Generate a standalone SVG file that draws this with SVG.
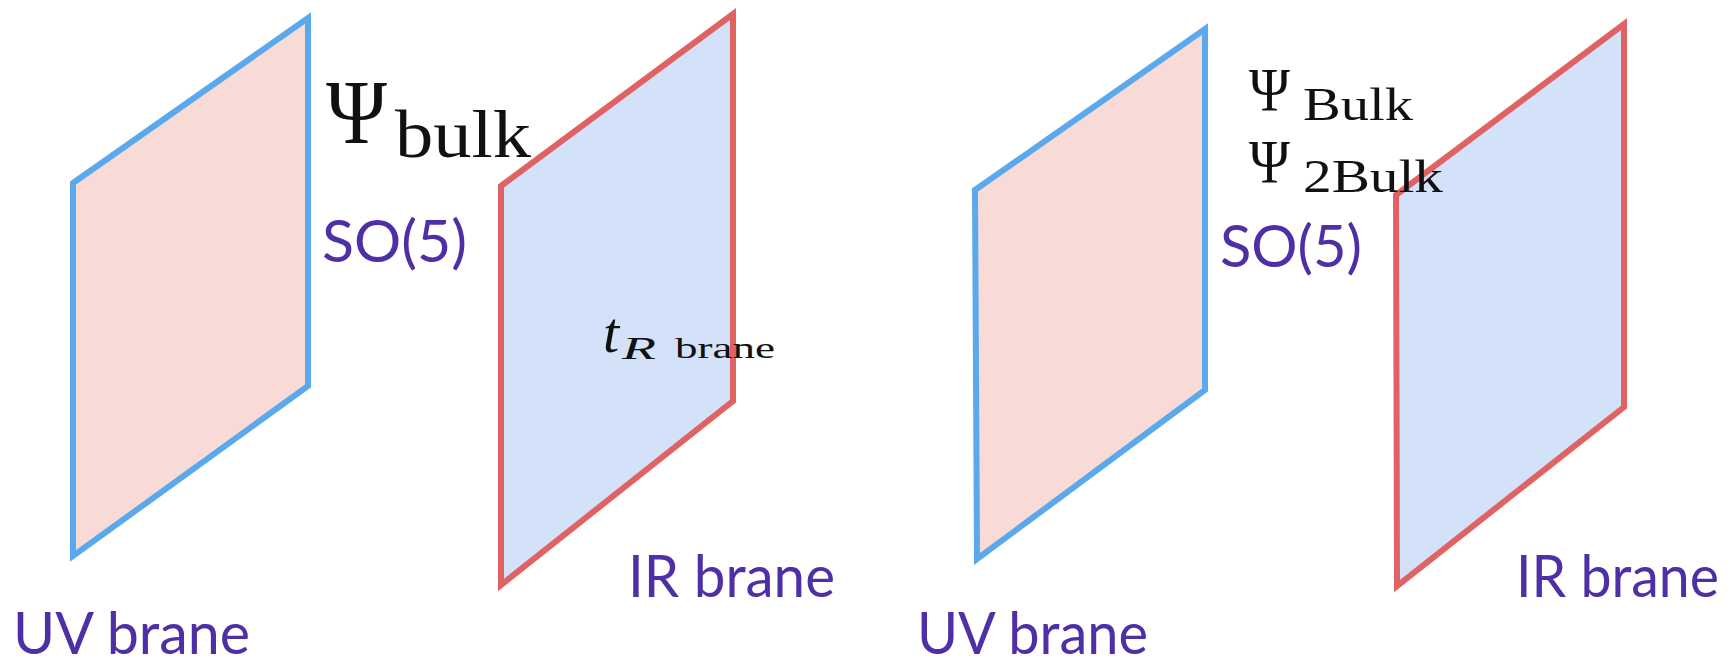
<svg xmlns="http://www.w3.org/2000/svg" width="1734" height="665" viewBox="0 0 1734 665">
  <style>
    .uv { fill: #f8dad6; stroke: #5aa9ec; stroke-width: 6; stroke-linejoin: miter; }
    .ir { fill: #d3e2f9; stroke: #e06262; stroke-width: 6; stroke-linejoin: miter; }
    .lbl { font-family: Lato, "Open Sans", "Liberation Sans", sans-serif; fill: #4f2fa6; font-size: 58px; }
    .math { font-family: "Liberation Serif", "DejaVu Serif", serif; fill: #111; }
    .it { font-style: italic; }
  </style>
  <rect width="1734" height="665" fill="#ffffff"/>

  <g id="uv-brane-1">
    <polygon class="uv" points="73,183 308,18 308,386 73,556"/>
    <text class="lbl" x="13" y="654" textLength="237" lengthAdjust="spacingAndGlyphs">UV brane</text>
  </g>
  <g id="so5-1">
    <text class="lbl" x="322" y="262" textLength="145" lengthAdjust="spacingAndGlyphs">SO(5)</text>
  </g>
  <g id="ir-brane-1">
    <polygon class="ir" points="501,186 733,14 733,401 501,585"/>
    <text class="lbl" x="628" y="597" textLength="207" lengthAdjust="spacingAndGlyphs">IR brane</text>
  </g>
  <g id="psi-bulk-1">
    <text class="math" x="326" y="143" font-size="92" textLength="61" lengthAdjust="spacingAndGlyphs">Ψ</text>
    <text class="math" x="395" y="157" font-size="68" textLength="136" lengthAdjust="spacingAndGlyphs">bulk</text>
  </g>
  <g id="tr-brane">
    <text class="math it" x="603" y="352" font-size="58">t</text>
    <text class="math it" x="622" y="359" font-size="32" textLength="34" lengthAdjust="spacingAndGlyphs">R</text>
    <text class="math" x="675" y="358" font-size="29" textLength="100" lengthAdjust="spacingAndGlyphs">brane</text>
  </g>

  <g id="uv-brane-2">
    <polygon class="uv" points="975,190 1205,29 1205,390 977,559"/>
    <text class="lbl" x="917" y="654" textLength="231" lengthAdjust="spacingAndGlyphs">UV brane</text>
  </g>
  <g id="so5-2">
    <text class="lbl" x="1220" y="267" textLength="142" lengthAdjust="spacingAndGlyphs">SO(5)</text>
  </g>
  <g id="ir-brane-2">
    <polygon class="ir" points="1396,195 1624,24 1624,407 1397,586"/>
    <text class="lbl" x="1516" y="597" textLength="203" lengthAdjust="spacingAndGlyphs">IR brane</text>
  </g>
  <g id="psi-bulk-2">
    <text class="math" x="1249" y="110" font-size="62" textLength="41" lengthAdjust="spacingAndGlyphs">Ψ</text>
    <text class="math" x="1303" y="120" font-size="46" textLength="110" lengthAdjust="spacingAndGlyphs">Bulk</text>
    <text class="math" x="1249" y="182" font-size="62" textLength="41" lengthAdjust="spacingAndGlyphs">Ψ</text>
    <text class="math" x="1303" y="192" font-size="46" textLength="140" lengthAdjust="spacingAndGlyphs">2Bulk</text>
  </g>

  <g id="connectors"/>
</svg>
